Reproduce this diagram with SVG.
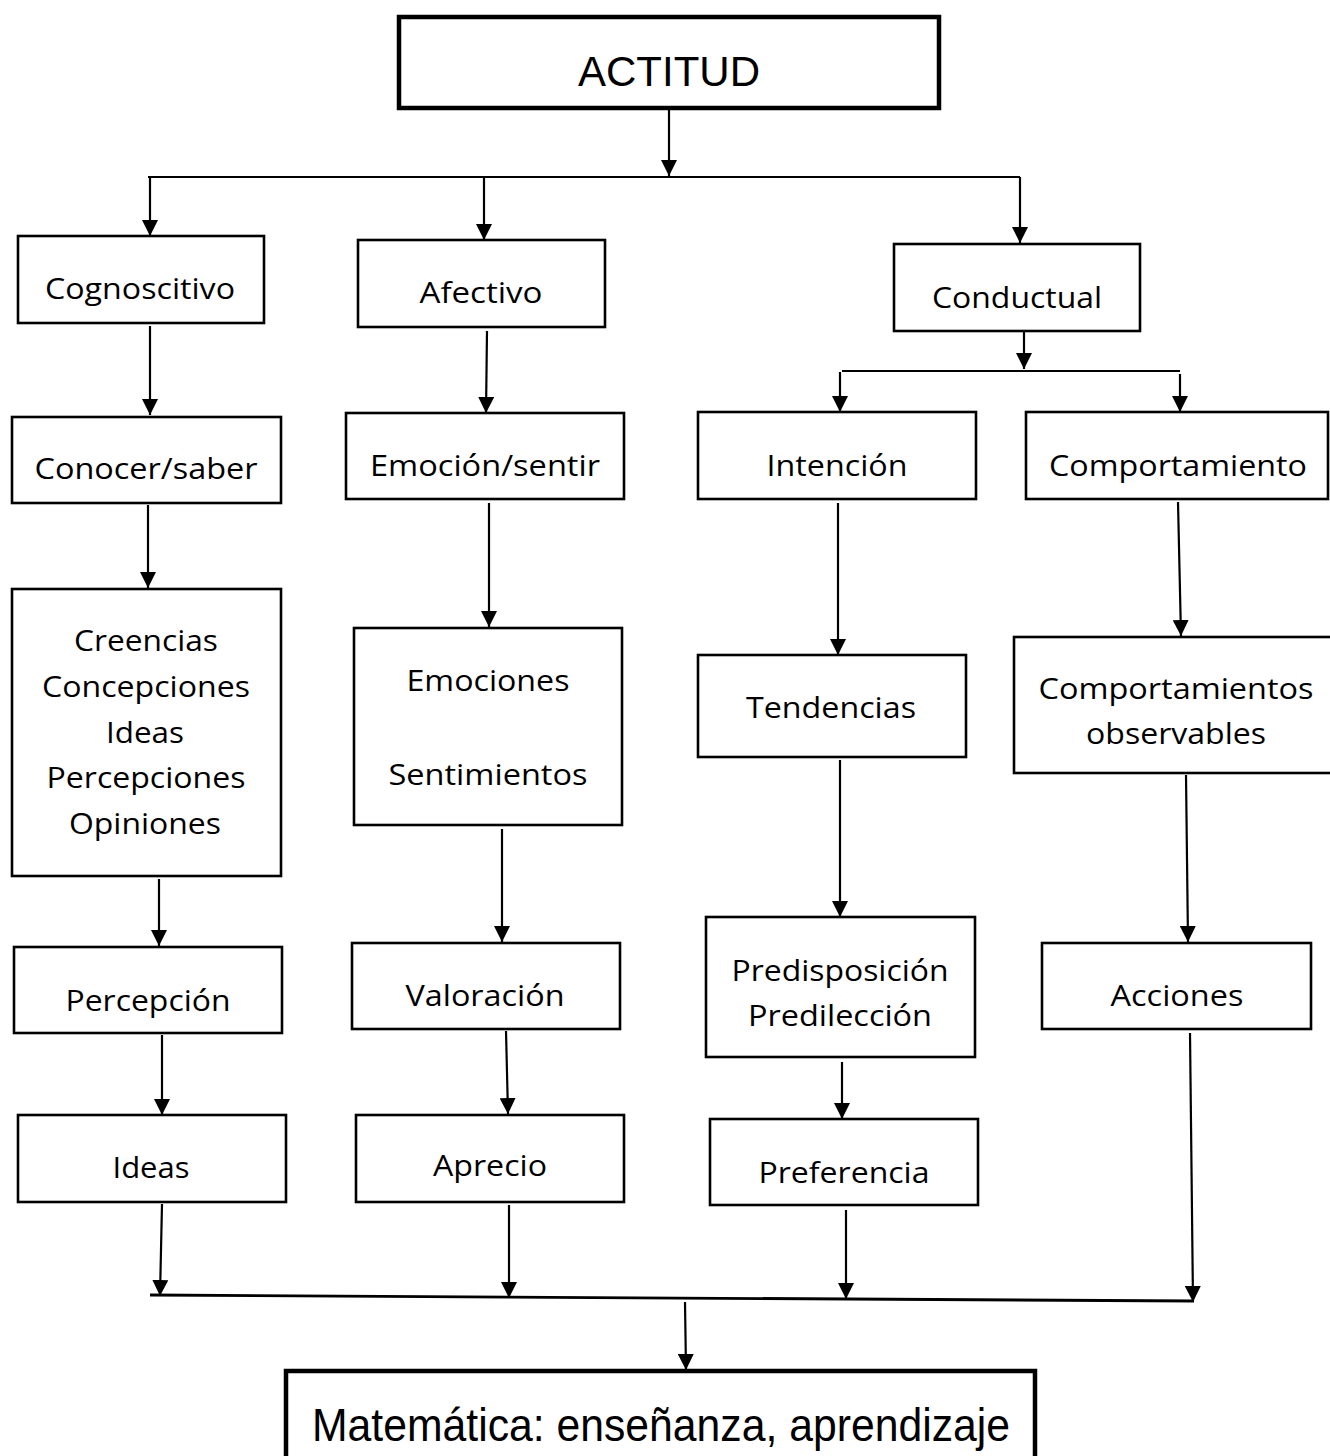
<svg xmlns="http://www.w3.org/2000/svg" width="1330" height="1456" viewBox="0 0 1330 1456">
<style>
.bg{fill:#fff}
.box{fill:#fff;stroke:#000;stroke-width:2.6}
.big{fill:#fff;stroke:#000;stroke-width:4.5}
.t{font-family:"Open Sans","Noto Sans",sans-serif;font-size:30px;fill:#000;text-anchor:middle}
.ta{font-family:"Liberation Sans",Arial,sans-serif;font-size:42px;fill:#000;text-anchor:middle}
.c{stroke:#000;stroke-width:2.2;fill:none}
.a{marker-end:url(#ah)}
</style>
<defs>
<marker id="ah" markerUnits="userSpaceOnUse" markerWidth="16" markerHeight="16" viewBox="0 0 16 16" refX="16" refY="8" orient="auto">
<path d="M0,0 L16,8 L0,16 z" fill="#000"/>
</marker>
</defs>
<rect class="bg" x="0" y="0" width="1330" height="1456"/>

<g id="connectors">
<line class="c a" x1="669" y1="108" x2="669" y2="176"/>
<line class="c" x1="148" y1="177" x2="1020" y2="177"/>
<line class="c a" x1="150" y1="177" x2="150" y2="236"/>
<line class="c a" x1="484" y1="177" x2="484" y2="240"/>
<line class="c a" x1="1020" y1="177" x2="1020" y2="243"/>
<line class="c a" x1="1024" y1="331" x2="1024" y2="369"/>
<line class="c" x1="842" y1="371" x2="1180" y2="371"/>
<line class="c a" x1="840" y1="372" x2="840" y2="412"/>
<line class="c a" x1="1180" y1="374" x2="1180" y2="412"/>
<line class="c a" x1="150" y1="326" x2="150" y2="415"/>
<line class="c a" x1="487" y1="331" x2="486" y2="413"/>
<line class="c a" x1="148" y1="505" x2="148" y2="588"/>
<line class="c a" x1="489" y1="503" x2="489" y2="627"/>
<line class="c a" x1="159" y1="879" x2="159" y2="946"/>
<line class="c a" x1="502" y1="829" x2="502" y2="942"/>
<line class="c a" x1="162" y1="1035" x2="162" y2="1115"/>
<line class="c a" x1="506" y1="1031" x2="508" y2="1114"/>
<line class="c a" x1="838" y1="503" x2="838" y2="655"/>
<line class="c a" x1="1178" y1="502" x2="1181" y2="636"/>
<line class="c a" x1="840" y1="760" x2="840" y2="917"/>
<line class="c a" x1="1186" y1="775" x2="1188" y2="942"/>
<line class="c a" x1="842" y1="1062" x2="842" y2="1119"/>
<line class="c a" x1="162" y1="1204" x2="160" y2="1296"/>
<line class="c a" x1="509" y1="1205" x2="509" y2="1298"/>
<line class="c a" x1="846" y1="1210" x2="846" y2="1299"/>
<line class="c a" x1="1190" y1="1033" x2="1193" y2="1302"/>
<line class="c" x1="150" y1="1295" x2="1194" y2="1301" style="stroke-width:2.8"/>
<line class="c a" x1="685" y1="1302" x2="686" y2="1370"/>
</g>

<g id="actitud">
<rect class="big" x="399" y="17" width="540" height="91"/>
<text class="ta" x="669" y="86">ACTITUD</text>
</g>
<g id="cognoscitivo">
<rect class="box" x="18" y="236" width="246" height="87"/>
<text class="t" x="140" y="299" textLength="190" lengthAdjust="spacingAndGlyphs">Cognoscitivo</text>
</g>
<g id="afectivo">
<rect class="box" x="358" y="240" width="247" height="87"/>
<text class="t" x="481" y="303" textLength="123" lengthAdjust="spacingAndGlyphs">Afectivo</text>
</g>
<g id="conductual">
<rect class="box" x="894" y="244" width="246" height="87"/>
<text class="t" x="1017" y="308" textLength="170" lengthAdjust="spacingAndGlyphs">Conductual</text>
</g>
<g id="conocer">
<rect class="box" x="12" y="417" width="269" height="86"/>
<text class="t" x="146" y="479" textLength="223" lengthAdjust="spacingAndGlyphs">Conocer/saber</text>
</g>
<g id="emocion">
<rect class="box" x="346" y="413" width="278" height="86"/>
<text class="t" x="485" y="476" textLength="230" lengthAdjust="spacingAndGlyphs">Emoción/sentir</text>
</g>
<g id="intencion">
<rect class="box" x="698" y="412" width="278" height="87"/>
<text class="t" x="837" y="476" textLength="141" lengthAdjust="spacingAndGlyphs">Intención</text>
</g>
<g id="comportamiento">
<rect class="box" x="1026" y="412" width="302" height="87"/>
<text class="t" x="1178" y="476" textLength="258" lengthAdjust="spacingAndGlyphs">Comportamiento</text>
</g>
<g id="creencias">
<rect class="box" x="12" y="589" width="269" height="287"/>
<text class="t" x="146" y="651" textLength="144" lengthAdjust="spacingAndGlyphs">Creencias</text>
<text class="t" x="146" y="697" textLength="208" lengthAdjust="spacingAndGlyphs">Concepciones</text>
<text class="t" x="145" y="743" textLength="78" lengthAdjust="spacingAndGlyphs">Ideas</text>
<text class="t" x="146" y="788" textLength="199" lengthAdjust="spacingAndGlyphs">Percepciones</text>
<text class="t" x="145" y="834" textLength="152" lengthAdjust="spacingAndGlyphs">Opiniones</text>
</g>
<g id="emociones">
<rect class="box" x="354" y="628" width="268" height="197"/>
<text class="t" x="488" y="691" textLength="163" lengthAdjust="spacingAndGlyphs">Emociones</text>
<text class="t" x="488" y="785" textLength="199" lengthAdjust="spacingAndGlyphs">Sentimientos</text>
</g>
<g id="tendencias">
<rect class="box" x="698" y="655" width="268" height="102"/>
<text class="t" x="831" y="718" textLength="170" lengthAdjust="spacingAndGlyphs">Tendencias</text>
</g>
<g id="observables">
<rect class="box" x="1014" y="637" width="325" height="136"/>
<text class="t" x="1176" y="699" textLength="275" lengthAdjust="spacingAndGlyphs">Comportamientos</text>
<text class="t" x="1176" y="744" textLength="180" lengthAdjust="spacingAndGlyphs">observables</text>
</g>
<g id="percepcion">
<rect class="box" x="14" y="947" width="268" height="86"/>
<text class="t" x="148" y="1011" textLength="165" lengthAdjust="spacingAndGlyphs">Percepción</text>
</g>
<g id="valoracion">
<rect class="box" x="352" y="943" width="268" height="86"/>
<text class="t" x="485" y="1006" textLength="159" lengthAdjust="spacingAndGlyphs">Valoración</text>
</g>
<g id="predisposicion">
<rect class="box" x="706" y="917" width="269" height="140"/>
<text class="t" x="840" y="981" textLength="217" lengthAdjust="spacingAndGlyphs">Predisposición</text>
<text class="t" x="840" y="1026" textLength="184" lengthAdjust="spacingAndGlyphs">Predilección</text>
</g>
<g id="acciones">
<rect class="box" x="1042" y="943" width="269" height="86"/>
<text class="t" x="1177" y="1006" textLength="133" lengthAdjust="spacingAndGlyphs">Acciones</text>
</g>
<g id="ideas">
<rect class="box" x="18" y="1115" width="268" height="87"/>
<text class="t" x="151" y="1178" textLength="77" lengthAdjust="spacingAndGlyphs">Ideas</text>
</g>
<g id="aprecio">
<rect class="box" x="356" y="1115" width="268" height="87"/>
<text class="t" x="490" y="1176" textLength="114" lengthAdjust="spacingAndGlyphs">Aprecio</text>
</g>
<g id="preferencia">
<rect class="box" x="710" y="1119" width="268" height="86"/>
<text class="t" x="844" y="1183" textLength="171" lengthAdjust="spacingAndGlyphs">Preferencia</text>
</g>
<g id="matematica">
<rect class="big" x="286" y="1371" width="749" height="120"/>
<text class="ta" x="661" y="1441" style="font-size:47px" textLength="698" lengthAdjust="spacingAndGlyphs">Matemática: enseñanza, aprendizaje</text>
</g>
</svg>
